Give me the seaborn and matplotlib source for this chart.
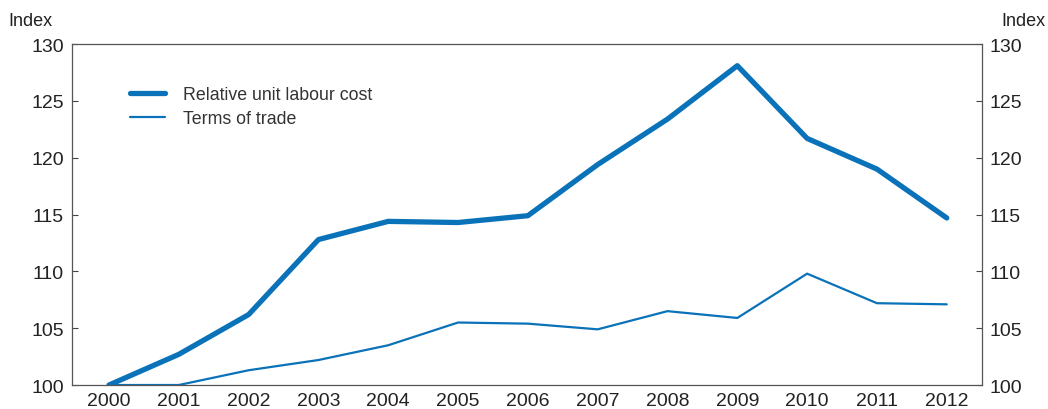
import numpy as np
import pandas as pd
import matplotlib
matplotlib.use('Agg')
import matplotlib.pyplot as plt
import seaborn as sns

years = list(range(2000, 2013))
rulc = [100.0, 102.7, 106.2, 112.8, 114.4, 114.3, 114.9, 119.4, 123.4, 128.1, 121.7, 119.0, 114.7]
tot = [100.0, 100.0, 101.3, 102.2, 103.5, 105.5, 105.4, 104.9, 106.5, 105.9, 109.8, 107.2, 107.1]
y_ticks = [100, 105, 110, 115, 120, 125, 130]

sns.set_style('white')
plt.rcParams['font.family'] = ['Liberation Sans', 'DejaVu Sans']

color = '#0a72b8'
df = pd.DataFrame({'year': years, 'rulc': rulc, 'tot': tot})

fig = plt.figure(figsize=(10.48, 4.10), dpi=100)
ax = fig.add_axes([0.0687, 0.0585, 0.868, 0.8315])

sns.lineplot(data=df, x='year', y='rulc', ax=ax, color=color, lw=3.8,
             label='Relative unit labour cost')
sns.lineplot(data=df, x='year', y='tot', ax=ax, color=color, lw=1.6,
             label='Terms of trade')

ax.set_xlim(1999.47, 2012.5)
ax.set_ylim(100, 130)
ax.set_xlabel('')
ax.set_ylabel('')

ax.set_xticks(years)
ax.set_xticklabels([str(y) for y in years])
ax.set_xticks([y + 0.5 for y in years[:-1]], minor=True)
ax.tick_params(axis='x', which='major', length=0, labelsize=14, pad=5, colors='#222222')
ax.tick_params(axis='x', which='minor', length=4, direction='in', color='#444444', width=0.8)
ax.set_yticks(y_ticks)
ax.tick_params(axis='y', which='major', length=4, direction='in', labelsize=14,
               colors='#222222', right=True, labelright=True, left=True, labelleft=True,
               pad=6)
ax.tick_params(axis='y', color='#444444', width=0.8)

for s in ax.spines.values():
    s.set_color('#555555')
    s.set_linewidth(0.9)

fig.text(0.008, 0.937, 'Index', fontsize=13, color='#222222', ha='left')
fig.text(0.998, 0.937, 'Index', fontsize=13, color='#222222', ha='right')

leg = ax.legend(loc='upper left', bbox_to_anchor=(0.0637, 0.877), frameon=False,
                borderpad=0, borderaxespad=0,
                fontsize=12.8, handlelength=2.0, handletextpad=1.0, labelspacing=0.42)
for t in leg.get_texts():
    t.set_color('#333333')

fig.savefig('out.png', dpi=100)
